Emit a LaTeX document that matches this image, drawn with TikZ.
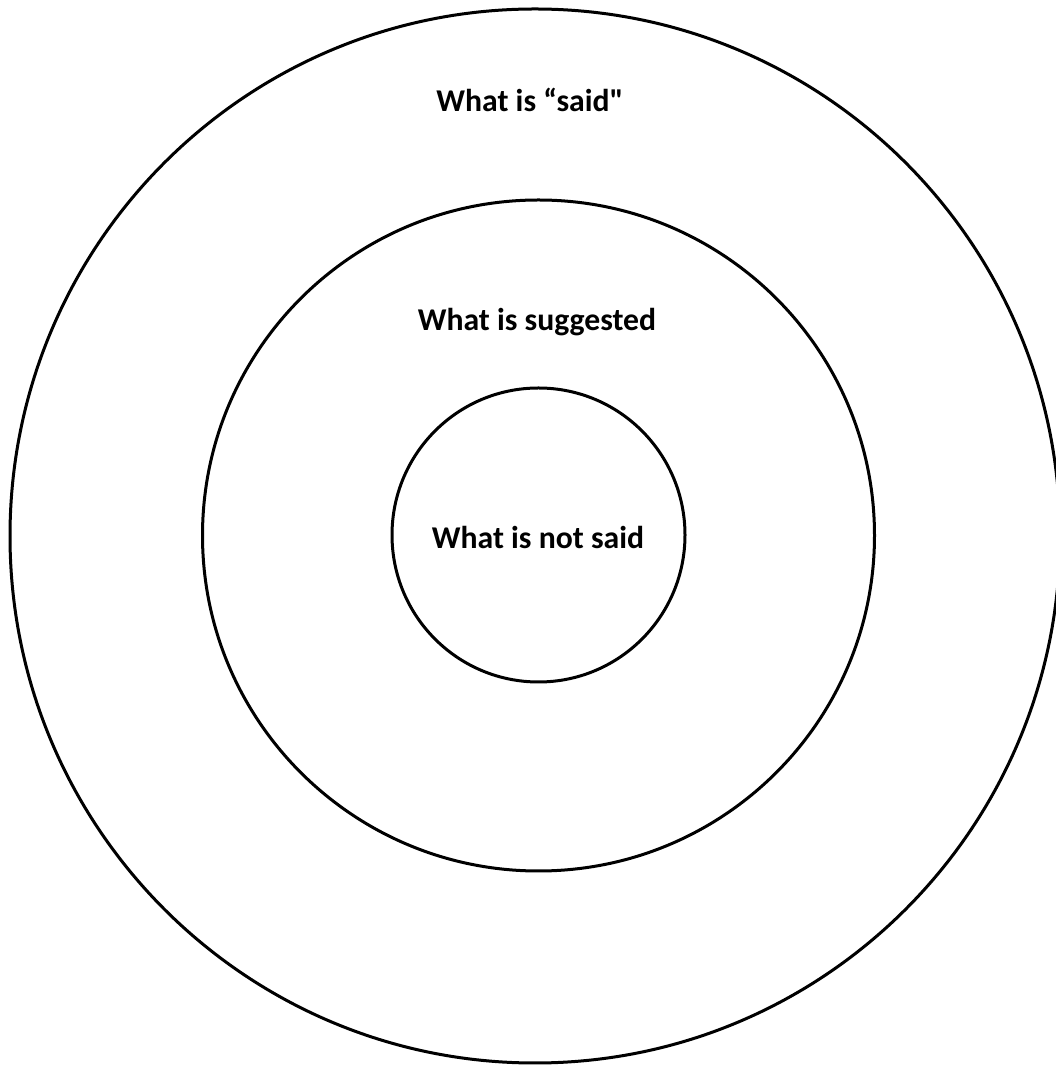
\documentclass[tikz,border=0pt]{standalone}
\usepackage{fontspec}
\setmainfont[Ligatures=TeXOff]{Carlito}
\begin{document}
\begin{tikzpicture}[x=1pt,y=1pt,
  ring/.style={draw=black,line width=3pt},
  lbl/.style={font=\bfseries\fontsize{31.7}{38}\selectfont,inner sep=0pt}]
\useasboundingbox (0,0) rectangle (1056,1066);
\draw[ring] (535,530) ellipse [x radius=525,y radius=527];
\draw[ring] (538.5,530.5) ellipse [x radius=336,y radius=335.5];
\draw[ring] (538.5,531) ellipse [x radius=146.5,y radius=147];
\node[lbl] (said) at (530,966) {What is “said"};
\node[lbl] (sugg) at (537,744) {What is suggested};
\node[lbl] (not) at (538,529) {What is not said};
\end{tikzpicture}
\end{document}
